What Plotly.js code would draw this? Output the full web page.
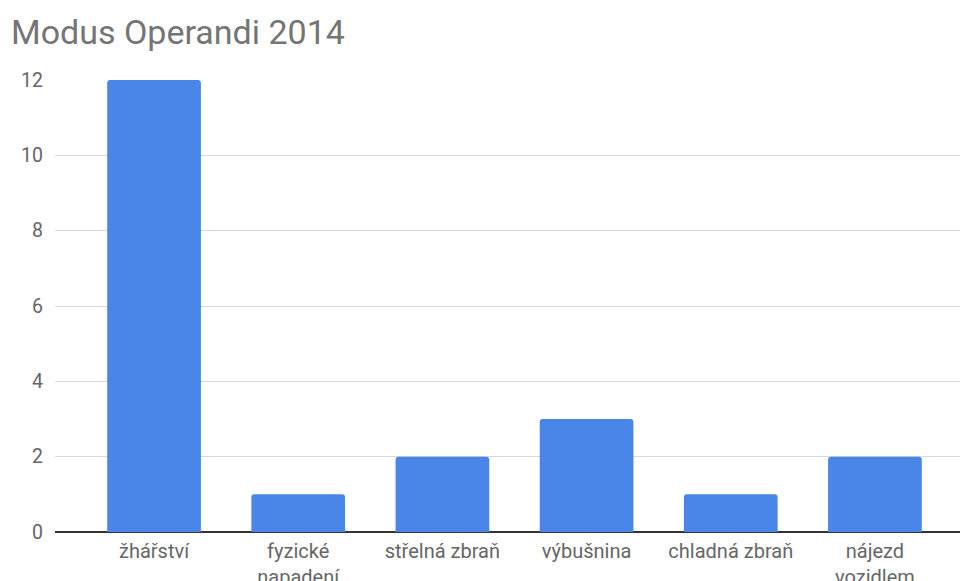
<!DOCTYPE html>
<html>
<head>
<meta charset="utf-8">
<script src="https://cdn.plot.ly/plotly-3.0.1.min.js"></script>
<style>
  html, body { margin: 0; padding: 0; background: #fff; }
  #chart { width: 960px; height: 581px; }
</style>
</head>
<body>
<div id="chart"></div>
<script>
const categories = ["žhářství", "fyzické napadení", "střelná zbraň", "výbušnina", "chladná zbraň", "nájezd vozidlem"];
const tickLabels = ["žhářství", "fyzické<br>napadení", "střelná zbraň", "výbušnina", "chladná zbraň", "nájezd<br>vozidlem"];
const values = [12, 1, 2, 3, 1, 2];
const yTicks = [0, 2, 4, 6, 8, 10, 12];
const chartTitle = "Modus Operandi 2014";

const trace = {
  type: "bar",
  x: categories,
  y: values,
  marker: { color: "#4a86e8", cornerradius: 3, line: { width: 0 } },
  hoverinfo: "x+y"
};

const layout = {
  width: 960,
  height: 581,
  margin: { l: 55, r: 0, t: 80, b: 49 },
  paper_bgcolor: "#ffffff",
  plot_bgcolor: "#ffffff",
  showlegend: false,
  bargap: 0.35,
  title: {
    text: chartTitle,
    font: { family: "Roboto, Arial, sans-serif", size: 34, color: "#757575" },
    x: 0, xref: "container", xanchor: "left",
    y: 0.945, yref: "container", yanchor: "middle",
    pad: { t: 0, l: 11 },
  },
  xaxis: {
    type: "category",
    range: [-0.687, 5.59],
    tickmode: "array",
    tickvals: categories,
    ticktext: tickLabels,
    showgrid: false,
    showline: false,
    zeroline: false,
    ticks: "",
    ticklabelstandoff: 5,
    tickfont: { family: "Roboto, Arial, sans-serif", size: 20, color: "#666666" },
    fixedrange: true
  },
  yaxis: {
    range: [0, 12],
    tickmode: "array",
    tickvals: yTicks,
    showgrid: true,
    gridcolor: "#d9d9d9",
    gridwidth: 1,
    zeroline: true,
    zerolinecolor: "#333333",
    zerolinewidth: 1.5,
    showline: false,
    ticks: "",
    ticklabelstandoff: 11,
    tickfont: { family: "Roboto, Arial, sans-serif", size: 19.5, color: "#666666" },
    fixedrange: true
  }
};

Plotly.newPlot("chart", [trace], layout, { displayModeBar: false, staticPlot: true });
</script>
</body>
</html>
